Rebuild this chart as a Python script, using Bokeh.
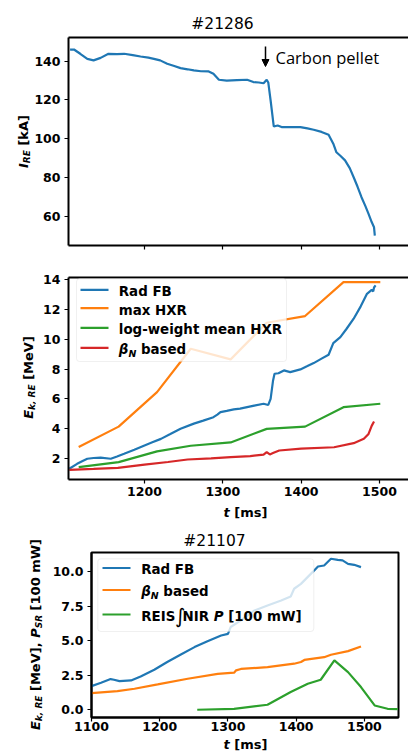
from bokeh.plotting import figure
from bokeh.layouts import column, row
from bokeh.models import (Range1d, FixedTicker, LinearAxis, Label, BoxAnnotation,
                          Arrow, NormalHead, CustomJSTickFormatter)
from bokeh.embed import file_html
from bokeh.resources import INLINE

# ---------------- data ----------------
# Panel 1: shot #21286, runaway current
t_ire = [1105, 1110, 1118, 1127, 1135, 1144, 1154, 1165, 1174, 1185, 1195, 1205, 1212,
         1220, 1229, 1238, 1246, 1255, 1263, 1272, 1282, 1288, 1295, 1305, 1318, 1331,
         1339, 1346, 1352, 1356, 1358, 1361, 1365, 1370, 1375, 1387, 1399, 1408, 1416,
         1426, 1435, 1441, 1445, 1450, 1456, 1462, 1467, 1472, 1477, 1482, 1486, 1490,
         1493, 1494]
ire = [145.9, 146.0, 143.8, 141.2, 140.4, 141.7, 143.8, 143.6, 143.8, 143.1, 142.4, 141.8,
       141.2, 140.4, 138.7, 137.5, 136.4, 135.8, 135.2, 134.8, 134.7, 133.5, 130.4, 130.0,
       130.2, 130.4, 129.2, 129.0, 128.6, 130.4, 129.0, 119.7, 106.3, 106.8, 106.0, 106.0,
       106.0, 105.3, 104.6, 103.5, 102.0, 97.4, 93.0, 91.2, 88.8, 84.8, 80.1, 75.2, 69.8,
       65.2, 61.2, 57.0, 54.3, 50.0]

# Panel 2: shot #21286, energy estimates
t_radfb = [1104, 1114, 1121, 1127, 1135, 1144, 1157, 1165, 1174, 1187, 1200, 1210, 1221,
           1233, 1246, 1263, 1275, 1288, 1293, 1297, 1305, 1314, 1322, 1331, 1340, 1352,
           1358, 1361, 1364, 1366, 1371, 1378, 1386, 1399, 1408, 1416, 1426, 1435, 1441,
           1450, 1458, 1467, 1476, 1484, 1490, 1492, 1493, 1495]
e_radfb = [1.33, 1.66, 1.85, 2.0, 2.05, 2.07, 2.0, 2.15, 2.33, 2.6, 2.89, 3.1, 3.33, 3.65,
           4.0, 4.35, 4.55, 4.78, 4.95, 5.12, 5.2, 5.3, 5.35, 5.45, 5.55, 5.68, 5.6, 6.01,
           7.2, 7.69, 7.72, 7.91, 7.8, 7.98, 8.2, 8.4, 8.7, 8.96, 9.74, 10.14, 10.7, 11.37,
           12.2, 13.04, 13.3, 13.2, 13.46, 13.6]
t_hxr = [1116, 1167, 1216, 1259, 1310, 1356, 1405, 1454, 1501]
e_maxhxr = [2.78, 4.15, 6.46, 9.36, 8.65, 11.1, 11.55, 13.82, 13.82]
e_loghxr = [1.44, 1.77, 2.49, 2.87, 3.09, 4.0, 4.15, 5.45, 5.68]
t_beta = [1104, 1135, 1166, 1200, 1230, 1255, 1285, 1310, 1335, 1352, 1356, 1360, 1364,
          1372, 1400, 1442, 1467, 1480, 1486, 1490, 1493]
e_beta = [1.26, 1.32, 1.39, 1.61, 1.78, 1.95, 2.03, 2.11, 2.18, 2.27, 2.44, 2.29, 2.38,
          2.55, 2.68, 2.77, 3.04, 3.33, 3.66, 4.2, 4.49]

# Panel 3: shot #21107
t3_radfb = [1100, 1114, 1128, 1133, 1141, 1158, 1172, 1192, 1211, 1231, 1251, 1270, 1290,
            1300, 1304, 1319, 1339, 1358, 1378, 1392, 1397, 1407, 1424, 1432, 1441, 1451,
            1461, 1468, 1476, 1485, 1495]
v3_radfb = [1.71, 1.95, 2.22, 2.17, 2.07, 2.12, 2.41, 2.89, 3.45, 4.0, 4.53, 4.96, 5.37,
            5.49, 5.98, 6.46, 7.18, 7.54, 7.9, 8.19, 8.75, 9.1, 9.95, 10.36, 10.43, 10.92,
            10.84, 10.8, 10.55, 10.48, 10.31]
t3_beta = [1100, 1138, 1163, 1197, 1241, 1285, 1309, 1312, 1319, 1358, 1397, 1407, 1412,
           1441, 1451, 1476, 1495]
v3_beta = [1.2, 1.35, 1.52, 1.83, 2.24, 2.6, 2.68, 2.85, 2.95, 3.08, 3.33, 3.45, 3.6, 3.8,
           3.98, 4.24, 4.58]
t3_reis = [1255, 1309, 1358, 1392, 1417, 1436, 1456, 1476, 1495, 1515, 1534, 1549]
v3_reis = [0.0, 0.07, 0.36, 1.28, 1.88, 2.17, 3.57, 2.72, 1.64, 0.31, 0.07, 0.05]

x_ticks_top = [1200, 1300, 1400, 1500]
x_ticks_bot = [1100, 1200, 1300, 1400, 1500]
y_ticks_ire = [60, 80, 100, 120, 140]
y_ticks_e = [2, 4, 6, 8, 10, 12, 14]
y_ticks_3 = [0, 2.5, 5, 7.5, 10]

BLUE, ORANGE, GREEN, RED = "#1f77b4", "#ff7f0e", "#2ca02c", "#d62728"

# ---------------- text helpers ----------------
ADV = {' ': .348, '[': .457, ']': .457, ',': .380, '.': .380, '-': .415, '#': .838,
       'A': .774, 'B': .762, 'E': .683, 'F': .683, 'H': .837, 'I': .372, 'M': .995,
       'N': .837, 'P': .733, 'R': .770, 'S': .720, 'V': .774, 'W': 1.103, 'X': .774,
       'a': .675, 'b': .716, 'd': .716, 'e': .678, 'g': .716, 'h': .712, 'i': .343,
       'k': .665, 'l': .343, 'm': 1.042, 'n': .712, 'o': .687, 's': .595, 't': .478,
       'w': .924, 'x': .645, 'β': .716, '∫': .45}
for _d in "0123456789":
    ADV[_d] = .696

# empirical offset between requested and drawn alphabetic baseline (em units)
BASE_FIX = {"DejaVu Sans": 0.22, "Open Sans": 0.33}


def tw(s, size):
    return sum(ADV.get(c, .65) for c in s) * size


def put(p, fr, px, py, text, size, style="bold", font="DejaVu Sans", angle=0,
        align="left", color="black"):
    fl, fb = fr
    fix = BASE_FIX.get(font, 0.22) * size
    if angle == 0:
        py -= fix
    else:
        px -= fix
    p.add_layout(Label(x=px - fl, y=fb - py, x_units="screen", y_units="screen",
                       text=text, text_font=font, text_font_size=f"{size}px",
                       text_font_style=style, text_color=color, text_align=align,
                       text_baseline="alphabetic", angle=angle, angle_units="deg"))


def hrich(p, fr, px, py, pieces):
    for txt, size, style, dy in pieces:
        lead = len(txt) - len(txt.lstrip(" "))
        px += lead * ADV[" "] * size
        put(p, fr, px, py + dy, txt.strip(" "), size, style)
        px += tw(txt.lstrip(" "), size)


def hrich_center(p, fr, cx, py, pieces):
    total = sum(tw(t, s) for t, s, _, _ in pieces)
    hrich(p, fr, cx - total / 2, py, pieces)


def vrich_center(p, fr, bx, cy, pieces):
    total = sum(tw(t, s) for t, s, _, _ in pieces)
    py = cy + total / 2
    for txt, size, style, dx in pieces:
        lead = len(txt) - len(txt.lstrip(" "))
        py -= lead * ADV[" "] * size
        put(p, fr, bx + dx, py, txt.strip(" "), size, style, angle=90)
        py -= tw(txt.lstrip(" "), size)


def legend(p, fr, box, rows, x_line0, x_line1, x_text, size):
    fl, fb = fr
    l, t, r, b = box
    p.add_layout(BoxAnnotation(left=l - fl, right=r - fl, top=fb - t, bottom=fb - b,
                               left_units="screen", right_units="screen",
                               top_units="screen", bottom_units="screen",
                               fill_color="white", fill_alpha=0.8,
                               line_color="#cccccc", line_width=1, border_radius=3,
                               level="annotation"))
    for color, ry, pieces in rows:
        p.add_layout(Arrow(x_start=x_line0 - fl, y_start=fb - ry, x_end=x_line1 - fl,
                           y_end=fb - ry, start_units="screen", end_units="screen",
                           start=None, end=None, line_color=color, line_width=2.2))
        hrich(p, fr, x_text, ry + 0.36 * size, pieces)


def style_fig(p, yticks, xticks, yfmt=None):
    p.xgrid.visible = False
    p.ygrid.visible = False
    p.background_fill_color = "white"
    p.border_fill_color = "white"
    for ax in (p.xaxis[0], p.yaxis[0]):
        ax.axis_line_width = 2
        ax.axis_line_color = "black"
        ax.major_tick_line_color = "black"
        ax.major_tick_line_width = 1.2
        ax.major_tick_in = 0
        ax.major_tick_out = 4
        ax.minor_tick_line_color = None
        ax.major_label_text_font = "DejaVu Sans"
        ax.major_label_text_font_style = "bold"
        ax.major_label_text_font_size = "12.5px"
        ax.major_label_text_color = "black"
        ax.major_label_standoff = 4
    p.xaxis[0].major_label_standoff = 3
    p.xaxis[0].ticker = FixedTicker(ticks=xticks)
    p.yaxis[0].ticker = FixedTicker(ticks=yticks)
    if yfmt is not None:
        p.yaxis[0].formatter = yfmt


def top_border(p):
    ax = LinearAxis(ticker=FixedTicker(ticks=[]), axis_line_width=2, axis_line_color="black",
                    major_tick_line_color=None, minor_tick_line_color=None,
                    major_label_standoff=0)
    p.add_layout(ax, "above")


def strip(w, h, bl=0, br=0, bt=0, bb=0):
    s = figure(width=w, height=h, x_range=Range1d(0, 1), y_range=Range1d(0, 1),
               x_axis_type=None, y_axis_type=None, output_backend="svg",
               toolbar_location=None, min_border_left=bl, min_border_right=br,
               min_border_top=bt, min_border_bottom=bb)
    s.outline_line_color = None
    s.background_fill_color = "white"
    s.border_fill_color = "white"
    return s


# ---------------- panel 1 (page y 0..271) ----------------
t1 = strip(408, 35)
put(t1, (0, 35), 222, 26.5, "#21286", 15.5, style="normal", align="center")

y1 = strip(31, 236, bt=2, bb=26)
vrich_center(y1, (0, 245), 25.5, 141, [("I", 13, "bold italic", 0),
                                       ("RE", 9, "bold italic", 2.5),
                                       (" [kA]", 13, "bold", 0)])

FR1 = (68, 245)
p1 = figure(width=377, height=236, x_range=Range1d(1103, 1537), y_range=Range1d(44.9, 152.2),
            output_backend="svg", toolbar_location=None, min_border_left=37,
            min_border_right=0, min_border_top=2, min_border_bottom=26)
p1.outline_line_color = None
style_fig(p1, y_ticks_ire, x_ticks_top)
p1.xaxis[0].major_label_overrides = {t: "" for t in x_ticks_top}
top_border(p1)
p1.line(t_ire, ire, line_color=BLUE, line_width=2.2)
p1.add_layout(Arrow(x_start=265 - 68, y_start=245 - 46, x_end=265 - 68, y_end=245 - 66,
                    start_units="screen", end_units="screen",
                    end=NormalHead(size=7, fill_color="black", line_color="black"),
                    line_color="black", line_width=1.5))
put(p1, FR1, 275, 62.3, "Carbon pellet", 16.5, style="normal", font="Open Sans")

# ---------------- panel 2 (page y 271..522) ----------------
y2 = strip(36, 231, bt=6, bb=23)
vrich_center(y2, (0, 479), 31, 377, [("E", 13, "bold italic", 0),
                                     ("k, RE", 9, "bold italic", 2.5),
                                     (" [MeV]", 13, "bold", 0)])

FR2 = (68, 479)
p2 = figure(width=372, height=231, x_range=Range1d(1103, 1537), y_range=Range1d(0.61, 14.13),
            output_backend="svg", toolbar_location=None, min_border_left=32,
            min_border_right=0, min_border_top=6, min_border_bottom=23)
p2.outline_line_color = None
style_fig(p2, y_ticks_e, x_ticks_top)
top_border(p2)
p2.line(t_radfb, e_radfb, line_color=BLUE, line_width=2.2)
p2.line(t_hxr, e_maxhxr, line_color=ORANGE, line_width=2.2)
p2.line(t_hxr, e_loghxr, line_color=GREEN, line_width=2.2)
p2.line(t_beta, e_beta, line_color=RED, line_width=2.2)
LS = 13.4
legend(p2, FR2, (76, 278.3, 286, 361), [
    (BLUE, 289.3, [("Rad FB", LS, "bold", 0)]),
    (ORANGE, 307.7, [("max HXR", LS, "bold", 0)]),
    (GREEN, 327.3, [("log-weight mean HXR", LS, "bold", 0)]),
    (RED, 347.3, [("β", LS, "bold italic", 0), ("N", 9.4, "bold italic", 2.5),
                  (" based", LS, "bold", 0)]),
], 80, 108, 118.3, LS)

xl2 = strip(408, 20)
hrich_center(xl2, (0, 522), 245, 515, [("t", 13, "bold italic", 0), (" [ms]", 13, "bold", 0)])

# ---------------- panel 3 (page y 522..753) ----------------
y3 = strip(44, 231)
vrich_center(y3, (0, 753), 37.5, 634, [("E", 13, "bold italic", 0),
                                       ("k, RE", 9, "bold italic", 2.5),
                                       (" [MeV],", 13, "bold", 0),
                                       (" P", 13, "bold italic", 0),
                                       ("SR", 9, "bold italic", 2.5),
                                       (" [100 mW]", 13, "bold", 0)])

t3 = strip(364, 29, bl=47, br=10)
put(t3, (91, 551), 214, 544, "#21107", 15.5, style="normal", align="center")

FR3 = (91, 717)
fmt3 = CustomJSTickFormatter(code="return tick.toFixed(1);")
p3 = figure(width=364, height=185, x_range=Range1d(1100, 1550), y_range=Range1d(-0.56, 11.37),
            output_backend="svg", toolbar_location=None, min_border_left=47,
            min_border_right=10, min_border_top=1, min_border_bottom=19)
p3.outline_line_color = "black"
p3.outline_line_width = 2
p3.outline_line_alpha = 1
style_fig(p3, y_ticks_3, x_ticks_bot, yfmt=fmt3)
p3.xaxis[0].major_label_standoff = 0
p3.line(t3_radfb, v3_radfb, line_color=BLUE, line_width=2.2)
p3.line(t3_beta, v3_beta, line_color=ORANGE, line_width=2.2)
p3.line(t3_reis, v3_reis, line_color=GREEN, line_width=2.2)
legend(p3, FR3, (97.3, 558.3, 313.3, 631), [
    (BLUE, 567.5, [("Rad FB", LS, "bold", 0)]),
    (ORANGE, 589.5, [("β", LS, "bold italic", 0), ("N", 9.4, "bold italic", 2.5),
                     (" based", LS, "bold", 0)]),
    (GREEN, 614, [("REIS", LS, "bold", 0)]),
], 102, 130, 140.7, LS)
put(p3, FR3, 174.5, 620, "∫", 20, style="normal")
hrich(p3, FR3, 182, 614 + 0.36 * LS, [("NIR", LS, "bold", 0), (" P", LS, "bold italic", 0),
                                      (" [100 mW]", LS, "bold", 0)])

xl3 = strip(364, 17, bl=47, br=10)
hrich_center(xl3, (91, 753), 245, 747.3, [("t", 13, "bold italic", 0), (" [ms]", 13, "bold", 0)])

layout = column(
    t1,
    row(y1, p1, spacing=0),
    row(y2, p2, spacing=0),
    xl2,
    row(y3, column(t3, p3, xl3, spacing=0), spacing=0),
    spacing=0,
)
open("out.html", "w").write(file_html(layout, INLINE))
